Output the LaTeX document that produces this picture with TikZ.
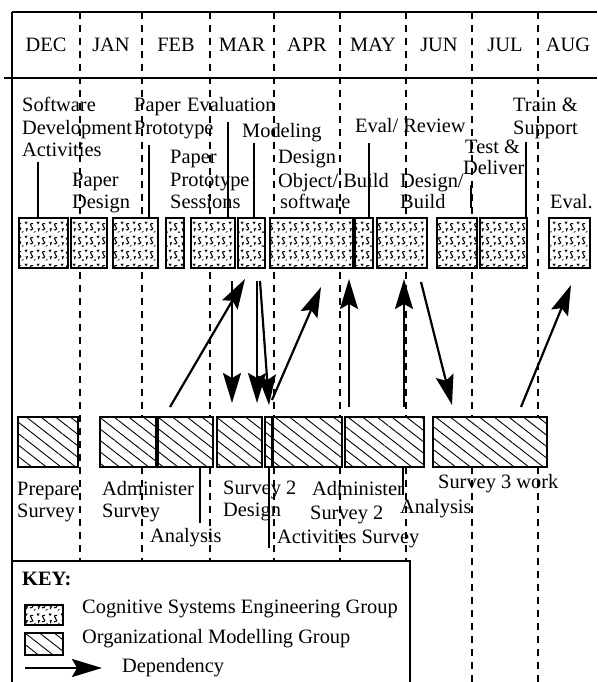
\documentclass[tikz,border=0pt]{standalone}
\usepackage{fontspec}
\setmainfont{Liberation Serif}
\usetikzlibrary{arrows.meta,patterns,patterns.meta}

\tikzdeclarepattern{
  name=cse,
  type=colored,
  bottom left={(0pt,0pt)},
  top right={(12pt,14pt)},
  tile size={(12pt,14pt)},
  code={
    \draw[black,line width=1.1pt] (9.8pt,11pt) .. controls (6.5pt,12pt) and (5.8pt,8.6pt) .. (8pt,7.9pt) .. controls (10.2pt,7.2pt) and (9.8pt,3.6pt) .. (6.2pt,4.4pt);
    \draw[black,line width=0.9pt] (1pt,13pt) -- (2.2pt,11pt) -- (3.4pt,13pt);
    \draw[black,line width=0.9pt] (2pt,6pt) -- (3pt,4.4pt) -- (4pt,6pt);
    \draw[black,line width=0.9pt] (3pt,4.4pt) -- (2.6pt,2.8pt);
    \draw[black,line width=0.8pt] (10.5pt,1.5pt) -- (11.5pt,2.5pt);
  }
}

\begin{document}
\begin{tikzpicture}[x=1pt,y=-1pt,
  txt/.style={inner sep=0pt,font=\fontsize{20.4pt}{22pt}\selectfont},
  lbl/.style={txt,anchor=base west},
  mon/.style={txt,anchor=base},
  monthline/.style={line width=1.3pt,dash pattern=on 7pt off 6pt},
  tbox/.style={draw,line width=2.6pt,anchor=north west,minimum height=50pt,inner sep=0pt,outer sep=0pt,preaction={fill=white},pattern=cse},
  bbox/.style={draw,line width=2.2pt,anchor=north west,minimum height=50pt,inner sep=0pt,outer sep=0pt,preaction={fill=white},pattern={Lines[angle=-38,distance=9pt,line width=0.9pt]}},
  ptr/.style={line width=2.5pt},
  dep/.style={line width=2.2pt,-{Stealth[length=30pt,width=18pt,inset=5pt]}},
]
\useasboundingbox (0,0) rectangle (597,682);

% month separators
\foreach \mx in {80,142,210,274,340,406,472,538}
  \draw[monthline] (\mx,12) -- (\mx,682);

% frame
\draw[line width=2.5pt] (12,682) -- (12,12);
\draw[line width=1.5pt] (12,12) -- (597,12);
\draw[line width=1.8pt] (4,78) -- (597,78);

% months
\node[mon] (mdec) at (46,52) {DEC};
\node[mon] (mjan) at (111,52) {JAN};
\node[mon] (mfeb) at (176,52) {FEB};
\node[mon] (mmar) at (242,52) {MAR};
\node[mon] (mapr) at (307,52) {APR};
\node[mon] (mmay) at (373,52) {MAY};
\node[mon] (mjun) at (439,52) {JUN};
\node[mon] (mjul) at (505,52) {JUL};
\node[mon] (maug) at (568,52) {AUG};

% top boxes (Cognitive Systems Engineering Group)
\node[tbox,minimum width=49pt] (t1) at (19,218) {};
\node[tbox,minimum width=36pt] (t2) at (71,218) {};
\node[tbox,minimum width=45pt] (t3) at (113,218) {};
\node[tbox,minimum width=18pt] (t4) at (166,218) {};
\node[tbox,minimum width=44pt] (t5) at (191,218) {};
\node[tbox,minimum width=27pt] (t6) at (238,218) {};
\node[tbox,minimum width=83pt] (t7) at (270,218) {};
\node[tbox,minimum width=18pt] (t8) at (355,218) {};
\node[tbox,minimum width=50pt] (t9) at (377,218) {};
\node[tbox,minimum width=40pt] (t10) at (437,218) {};
\node[tbox,minimum width=47pt] (t11) at (480,218) {};
\node[tbox,minimum width=41pt] (t12) at (549,218) {};

% bottom boxes (Organizational Modelling Group)
\node[bbox,minimum width=60pt] (b1) at (18,417) {};
\node[bbox,minimum width=56pt] (b2) at (100,417) {};
\node[bbox,minimum width=55pt] (b3) at (158,417) {};
\node[bbox,minimum width=45pt] (b4) at (217,417) {};
\node[bbox,minimum width=7pt] (b5) at (265,417) {};
\node[bbox,minimum width=69pt] (b6) at (273,417) {};
\node[bbox,minimum width=79pt] (b7) at (345,417) {};
\node[bbox,minimum width=114pt] (b8) at (433,417) {};

% top labels
\node[lbl] (sw1) at (22,112) {Software};
\node[lbl] (sw2) at (22,134) {Development};
\node[lbl] (sw3) at (22,156) {Activities};
\node[lbl] (pd1) at (72,186) {Paper};
\node[lbl] (pd2) at (72,208) {Design};
\node[lbl] (pp1) at (134,112) {Paper};
\node[lbl] (pp2) at (134,134) {Prototype};
\node[lbl] (ev1) at (187,112) {Evaluation};
\node[lbl] (ps1) at (170,163) {Paper};
\node[lbl] (ps2) at (170,186) {Prototype};
\node[lbl] (ps3) at (170,208) {Sessions};
\node[lbl] (mo1) at (242,137) {Modeling};
\node[lbl] (do1) at (278,163) {Design};
\node[lbl] (do2) at (278,187) {Object/ Build};
\node[lbl] (do3) at (280,208) {software};
\node[lbl] (er1) at (355,132) {Eval/ Review};
\node[lbl] (db1) at (400,187) {Design/};
\node[lbl] (db2) at (400,208) {Build};
\node[lbl] (td1) at (465,153) {Test \&};
\node[lbl] (td2) at (463,174) {Deliver};
\node[lbl] (ts1) at (513,112) {Train \&};
\node[lbl] (ts2) at (513,134) {Support};
\node[lbl] (ev2) at (550,208) {Eval.};

% top pointers
\coordinate (p1) at (38,162);  \draw[ptr] (p1) -- (p1 |- t1.north);
\coordinate (p2) at (149,145); \draw[ptr] (p2) -- (p2 |- t3.north);
\coordinate (p3) at (228,122); \draw[ptr] (p3) -- (p3 |- t5.north);
\coordinate (p4) at (254,143); \draw[ptr] (p4) -- (p4 |- t6.north);
\coordinate (p5) at (369,143); \draw[ptr] (p5) -- (p5 |- t8.north);
\coordinate (p6a) at (471,185); \coordinate (p6b) at (471,208); \draw[ptr] (p6a) -- (p6b);
\coordinate (p7) at (526,142); \draw[ptr] (p7) -- (p7 |- t11.north);

% bottom labels
\node[lbl] (ls1) at (17,495) {Prepare};
\node[lbl] (ls2) at (17,517) {Survey};
\node[lbl] (as1) at (102,495) {Administer};
\node[lbl] (as2) at (102,517) {Survey};
\node[lbl] (an1) at (150,542) {Analysis};
\node[lbl] (sd1) at (223,494) {Survey 2};
\node[lbl] (sd2) at (223,516) {Design};
\node[lbl] (ac1) at (277,543) {Activities Survey};
\node[lbl] (a21) at (312,495) {Administer};
\node[lbl] (a22) at (310,519) {Survey 2};
\node[lbl] (an2) at (400,513) {Analysis};
\node[lbl] (s3w) at (438,488) {Survey 3 work};

% bottom pointers
\coordinate (q1) at (200,523); \draw[ptr] (q1 |- b3.south) -- (q1);
\coordinate (q2) at (269,548); \draw[ptr] (q2 |- b5.south) -- (q2);
\coordinate (q3) at (403,495); \draw[ptr] (q3 |- b7.south) -- (q3);

% dependency arrows
\coordinate (a1s) at (170,407); \coordinate (a1e) at (245,279);
\coordinate (a2s) at (232,281); \coordinate (a2e) at (232,403);
\coordinate (a3s) at (257,281); \coordinate (a3e) at (257,403);
\coordinate (a4s) at (260,281); \coordinate (a4e) at (269,405);
\coordinate (a5s) at (272,400); \coordinate (a5e) at (321,287);
\coordinate (a6s) at (349,407); \coordinate (a6e) at (349,279);
\coordinate (a7s) at (404,407); \coordinate (a7e) at (404,279);
\coordinate (a8s) at (421,282); \coordinate (a8e) at (452,405);
\coordinate (a9s) at (521,407); \coordinate (a9e) at (571,285);
\foreach \a in {1,...,9} \draw[dep] (a\a s) -- (a\a e);

% key
\node[draw,line width=1.8pt,fill=white,anchor=north west,minimum width=398pt,minimum height=130pt,inner sep=0pt,outer sep=0pt] (key) at (12,561) {};
\node[lbl,font=\fontsize{20.4pt}{22pt}\selectfont\bfseries] (keyt) at (22,585) {KEY:};
\node[tbox,line width=2pt,minimum width=38pt,minimum height=20pt] (k1) at (25,605) {};
\node[lbl] (k1t) at (82,613) {Cognitive Systems Engineering Group};
\node[bbox,line width=2pt,minimum width=38pt,minimum height=22pt] (k2) at (25,633) {};
\node[lbl] (k2t) at (82,643) {Organizational Modelling Group};
\coordinate (k3s) at (25,668); \coordinate (k3e) at (102,668);
\draw[dep] (k3s) -- (k3e);
\node[lbl] (k3t) at (122,672) {Dependency};
\end{tikzpicture}
\end{document}
